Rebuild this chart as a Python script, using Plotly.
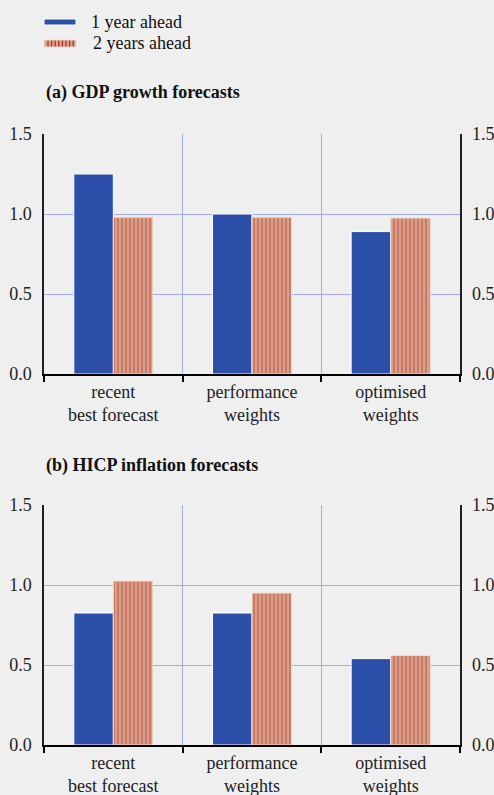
import plotly.graph_objects as go

categories = ["recent<br>best forecast", "performance<br>weights", "optimised<br>weights"]
gdp_1y = [1.25, 1.00, 0.89]
gdp_2y = [0.98, 0.98, 0.975]
hicp_1y = [0.825, 0.825, 0.54]
hicp_2y = [1.025, 0.95, 0.56]
series_names = ["1 year ahead", "2 years ahead"]
panel_titles = ["(a) GDP growth forecasts", "(b) HICP inflation forecasts"]
tick_vals = [0.0, 0.5, 1.0, 1.5]

W, H = 494, 795
BG = "#efefef"
BLUE = "#2c4fa9"
SALMON = "#d9a08b"
DARKRED = "#a8321f"
GRID = "#a3acea"
FONT = "Times New Roman"
FS = 18

def px(x):
    return x / W

def py(y):
    return 1 - y / H

fig = go.Figure()

panels = [
    (gdp_1y, gdp_2y, "x", "y"),
    (hicp_1y, hicp_2y, "x2", "y2"),
]

for v1, v2, xa, ya in panels:
    fig.add_trace(go.Bar(x=categories, y=v1, name=series_names[0], xaxis=xa, yaxis=ya,
                         marker=dict(color=BLUE, line=dict(color="white", width=1)),
                         showlegend=False))
    fig.add_trace(go.Bar(x=categories, y=v2, name=series_names[1], xaxis=xa, yaxis=ya,
                         marker=dict(color=SALMON, line=dict(color="#f6dcd2", width=1),
                                     pattern=dict(shape="|", fgcolor=DARKRED, bgcolor=SALMON,
                                                  size=4, solidity=0.35)),
                         showlegend=False))
    # right-hand tick labels
    for v in tick_vals:
        fig.add_annotation(text=f"{v:.1f}", x=px(469.5), xref="paper", y=v, yref=ya,
                           xanchor="left", yanchor="middle", showarrow=False,
                           font=dict(family=FONT, size=FS, color="#222"))

common_x = dict(type="category", tickson="boundaries", showgrid=True, gridcolor=GRID, gridwidth=1,
                showline=True, linecolor="black", linewidth=2, ticks="outside", ticklen=6,
                tickcolor="black", tickwidth=2, tickfont=dict(family=FONT, size=FS, color="#222"),
                domain=[px(44), px(460)], zeroline=False, automargin=False)
common_y = dict(range=[0, 1.5], tickvals=tick_vals, tickformat=".1f", showgrid=True, gridcolor=GRID,
                gridwidth=1, showline=True, mirror=True, linecolor="#222", linewidth=1.5, ticks="",
                tickfont=dict(family=FONT, size=FS, color="#222"), zeroline=False,
                ticklabelstandoff=7, automargin=False)

fig.update_layout(
    width=W, height=H, autosize=False, paper_bgcolor=BG, plot_bgcolor=BG,
    font=dict(family=FONT, size=FS, color="#222"),
    margin=dict(l=0, r=0, t=0, b=0, pad=0),
    barmode="group", bargap=0.43, bargroupgap=0.0,
    showlegend=False,
    xaxis=dict(common_x, anchor="y"),
    yaxis=dict(common_y, anchor="x", domain=[py(374), py(134)]),
    xaxis2=dict(common_x, anchor="y2"),
    yaxis2=dict(common_y, anchor="x2", domain=[py(745), py(505)]),
)

# panel titles
for t, yy in zip(panel_titles, [93, 465]):
    fig.add_annotation(text="<b>" + t + "</b>", x=px(44), y=py(yy), xref="paper", yref="paper",
                       xanchor="left", yanchor="middle", showarrow=False,
                       font=dict(family=FONT, size=FS, color="#111"))

# custom legend
shapes = []
shapes.append(dict(type="rect", xref="paper", yref="paper", x0=px(44), x1=px(76),
                   y0=py(25), y1=py(19), fillcolor=BLUE, line=dict(color="white", width=1)))
shapes.append(dict(type="rect", xref="paper", yref="paper", x0=px(44), x1=px(76),
                   y0=py(47), y1=py(40), fillcolor=SALMON, line=dict(color="#f6dcd2", width=1)))
for k in range(8):
    xx = 48 + k * 3.6
    shapes.append(dict(type="line", xref="paper", yref="paper", x0=px(xx), x1=px(xx),
                       y0=py(46.5), y1=py(40.5), line=dict(color=DARKRED, width=1.2)))
fig.update_layout(shapes=shapes)
for name, yy, xx in zip(series_names, [22, 43], [89, 91]):
    fig.add_annotation(text=name, x=px(xx), y=py(yy), xref="paper", yref="paper",
                       xanchor="left", yanchor="middle", showarrow=False,
                       font=dict(family=FONT, size=FS, color="#111"))

fig.write_html("out.html", config={"displayModeBar": False},
               post_script="document.body.style.margin='0';document.body.style.overflow='hidden';document.documentElement.style.overflow='hidden';")
